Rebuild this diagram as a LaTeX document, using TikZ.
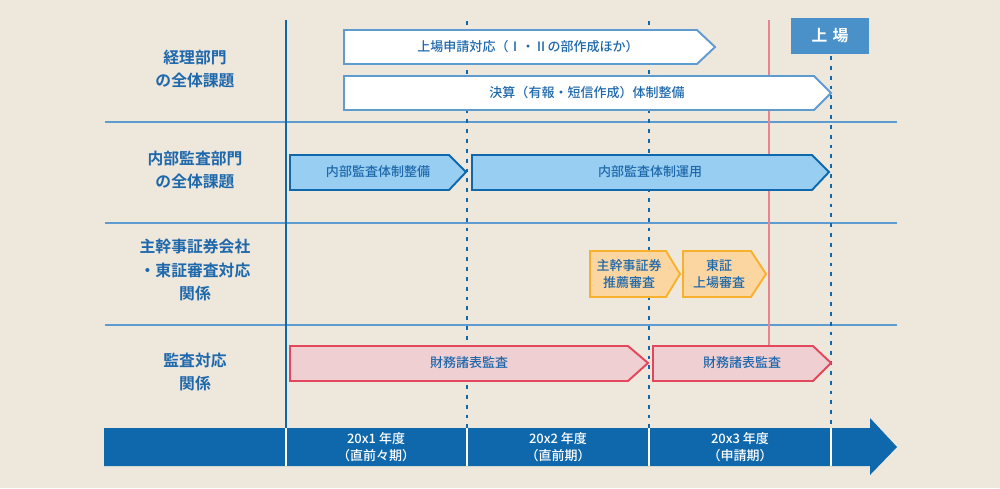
\documentclass[tikz,border=0pt]{standalone}
\usepackage{fontspec}
\setmainfont{Noto Sans CJK JP}[BoldFont={Noto Sans CJK JP Bold}]
\newfontfamily\midfont{Noto Sans CJK JP Medium}
\usepackage{xcolor}
\usetikzlibrary{positioning}
\definecolor{PlanBG}{HTML}{EDE7DC}
\definecolor{PlanBlue}{HTML}{0F68AC}
\definecolor{PlanText}{HTML}{1E68AC}
\definecolor{PlanLine}{HTML}{5E9BD0}
\definecolor{PlanSky}{HTML}{98CEF1}
\definecolor{PlanRed}{HTML}{E2475B}
\definecolor{PlanPink}{HTML}{F0CFD2}
\definecolor{PlanOrange}{HTML}{F8B12D}
\definecolor{PlanPeach}{HTML}{FBD6A0}
\definecolor{PlanRose}{HTML}{E8838F}
\definecolor{PlanBadge}{HTML}{4A91C9}

\begin{document}
\begin{tikzpicture}[x=0.02cm,y=-0.02cm,
    rowlabel/.style={align=center,font=\fontsize{9}{13.4}\selectfont\bfseries,PlanText},
    bartext/.style={align=center,font=\fontsize{7.4}{10}\selectfont\midfont,PlanText},
    yeartext/.style={align=center,font=\fontsize{7.4}{9.6}\selectfont\midfont,white},
    gridline/.style={PlanLine,line width=1.1pt},
    dotline/.style={PlanBlue,line width=1.6pt,dash pattern=on 2.2pt off 3.4pt},
    whitebar/.style={fill=white,draw=PlanLine,line width=1.1pt},
    skybar/.style={fill=PlanSky,draw=PlanBlue,line width=1.1pt},
    peachbar/.style={fill=PlanPeach,draw=PlanOrange,line width=1.1pt},
    pinkbar/.style={fill=PlanPink,draw=PlanRed,line width=1.1pt}]
  \fill[PlanBG] (0,0) rectangle (1000,488);

  % row separators and period lines
  \foreach \y in {122,223,325}
    \draw[gridline] (105,\y) -- (897,\y);
  \draw[dotline] (467,21) -- (467,428);
  \draw[dotline] (649,21) -- (649,428);
  \draw[dotline] (831,56) -- (831,428);
  \draw[PlanRose,line width=1.2pt] (769,20) -- (769,346);
  \draw[PlanBlue,line width=1.7pt] (286,20) -- (286,428);

  % listing badge
  \node[fill=PlanBadge,minimum width=1.56cm,minimum height=0.72cm,inner sep=0pt,
        font=\fontsize{9}{11}\selectfont\bfseries,text=white] (listing) at (830,36) {上\,\,場};

  % row labels
  \node[rowlabel] (acct) at (195,69) {経理部門\\の全体課題};
  \node[rowlabel] (audit) at (195,170) {内部監査部門\\の全体課題};
  \node[rowlabel] (secur) at (195,270) {主幹事証券会社\\・東証審査対応\\関係};
  \node[rowlabel] (ext) at (195,372) {監査対応\\関係};

  % accounting tasks
  \draw[whitebar] (344,30) -- (697,30) -- (715,47) -- (697,64) -- (344,64) -- cycle;
  \node[bartext] (apply) at (528,47) {上場申請対応（Ⅰ・Ⅱの部作成ほか）};
  \draw[whitebar] (344,76) -- (814,76) -- (831,93) -- (814,110) -- (344,110) -- cycle;
  \node[bartext] (closing) at (587,93) {決算（有報・短信作成）体制整備};

  % internal audit tasks
  \draw[skybar] (290,155) -- (449,155) -- (466,172) -- (449,190) -- (290,190) -- cycle;
  \node[bartext] (setup) at (378,172) {内部監査体制整備};
  \draw[skybar] (472,155) -- (812,155) -- (829,172) -- (812,190) -- (472,190) -- cycle;
  \node[bartext] (operate) at (650,172) {内部監査体制運用};

  % underwriter and exchange reviews
  \draw[peachbar] (590,251) -- (666,251) -- (680,274) -- (666,297) -- (590,297) -- cycle;
  \node[bartext] (underw) at (629,274) {主幹事証券\\推薦審査};
  \draw[peachbar] (683,251) -- (751,251) -- (766,274) -- (751,297) -- (683,297) -- cycle;
  \node[bartext] (tse) at (719,274) {東証\\上場審査};

  % external audits
  \draw[pinkbar] (290,346) -- (628,346) -- (648,363) -- (628,381) -- (290,381) -- cycle;
  \node[bartext] (fsa1) at (469,363) {財務諸表監査};
  \draw[pinkbar] (653,346) -- (813,346) -- (831,363) -- (813,381) -- (653,381) -- cycle;
  \node[bartext] (fsa2) at (742,363) {財務諸表監査};

  % time axis
  \fill[PlanBlue] (104,428) -- (870,428) -- (870,418) -- (897,447)
    -- (870,475) -- (870,466) -- (104,466) -- cycle;
  \foreach \x in {286,467,649,831}
    \draw[white,line width=0.9pt] (\x,428) -- (\x,466);
  \node[yeartext] (fy1) at (376,447) {20x1 年度\\（直前々期）};
  \node[yeartext] (fy2) at (558,447) {20x2 年度\\（直前期）};
  \node[yeartext] (fy3) at (740,447) {20x3 年度\\（申請期）};
\end{tikzpicture}
\end{document}
